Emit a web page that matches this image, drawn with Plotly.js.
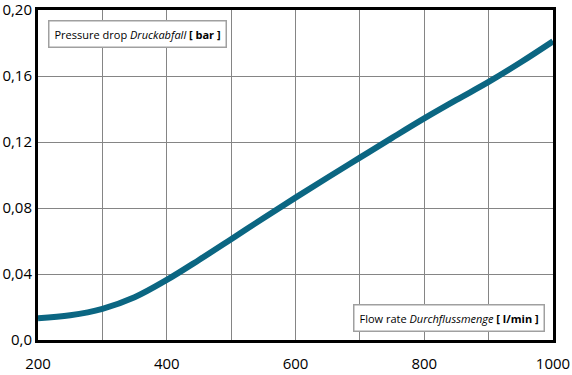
<!DOCTYPE html>
<html>
<head>
<meta charset="utf-8">
<script src="https://cdn.plot.ly/plotly-3.0.1.min.js"></script>
<style>html,body{margin:0;padding:0;background:#fff;}#chart{width:572px;height:375px;}</style>
</head>
<body>
<div id="chart"></div>
<script>
// Flow rate [l/min]
const flowRate = [200, 250, 300, 350, 400, 450, 500, 550, 600, 650, 700, 750, 800, 850, 900, 950, 1000];
// Pressure drop [bar]
const pressureDrop = [0.0132, 0.0150, 0.0189, 0.0259, 0.0364, 0.0485, 0.0611, 0.0738, 0.0863, 0.0985, 0.1105, 0.1225, 0.1343, 0.1455, 0.1564, 0.1683, 0.1810];

const xTickVals = [200, 300, 400, 500, 600, 700, 800, 900, 1000];
const xTickText = ['200', '', '400', '', '600', '', '800', '', '1000'];
const yTickVals = [0, 0.04, 0.08, 0.12, 0.16, 0.20];
const yTickText = ['0,0', '0,04', '0,08', '0,12', '0,16', '0,20'];

const trace = {
  x: flowRate,
  y: pressureDrop,
  type: 'scatter',
  mode: 'lines',
  line: {color: '#0b6682', width: 6, shape: 'spline', smoothing: 1},
  hoverinfo: 'skip'
};

const layout = {
  width: 572,
  height: 375,
  margin: {l: 38, r: 19, t: 10, b: 35, pad: 0},
  paper_bgcolor: '#ffffff',
  plot_bgcolor: '#ffffff',
  showlegend: false,
  font: {family: '"Open Sans", "DejaVu Sans", sans-serif', color: '#000'},
  xaxis: {
    range: [200, 1000],
    tickvals: xTickVals,
    ticktext: xTickText,
    showgrid: true,
    gridcolor: '#858585',
    gridwidth: 1,
    zeroline: false,
    showline: true,
    linecolor: '#000',
    linewidth: 3,
    mirror: true,
    ticks: 'outside',
    ticklen: 8,
    tickcolor: 'rgba(0,0,0,0)',
    tickfont: {size: 15, color: '#000'},
    ticklabeloverflow: 'allow',
    fixedrange: true
  },
  yaxis: {
    range: [0, 0.2],
    tickvals: yTickVals,
    ticktext: yTickText,
    showgrid: true,
    gridcolor: '#858585',
    gridwidth: 1,
    zeroline: false,
    showline: true,
    linecolor: '#000',
    linewidth: 3,
    mirror: true,
    ticks: '',
    ticklen: 0,
    tickfont: {size: 15, color: '#000'},
    ticklabeloverflow: 'allow',
    automargin: false,
    fixedrange: true
  },
  annotations: [
    {
      xref: 'paper', yref: 'paper',
      x: 0.02, y: 0.97, xanchor: 'left', yanchor: 'top',
      text: 'Pressure drop <i>Druckabfall</i> <b>[ bar ]</b>',
      showarrow: false,
      font: {size: 11, color: '#000', family: '"Open Sans", "DejaVu Sans", sans-serif'},
      bgcolor: '#ffffff',
      bordercolor: '#a0a0a0',
      borderwidth: 1.5,
      borderpad: 5
    },
    {
      xref: 'paper', yref: 'paper',
      x: 0.985, y: 0.025, xanchor: 'right', yanchor: 'bottom',
      text: 'Flow rate <i>Durchflussmenge</i> <b>[ l/min ]</b>',
      showarrow: false,
      font: {size: 11, color: '#000', family: '"Open Sans", "DejaVu Sans", sans-serif'},
      bgcolor: '#ffffff',
      bordercolor: '#a0a0a0',
      borderwidth: 1.5,
      borderpad: 5
    }
  ]
};

Plotly.newPlot('chart', [trace], layout, {displayModeBar: false, staticPlot: true});
</script>
</body>
</html>
